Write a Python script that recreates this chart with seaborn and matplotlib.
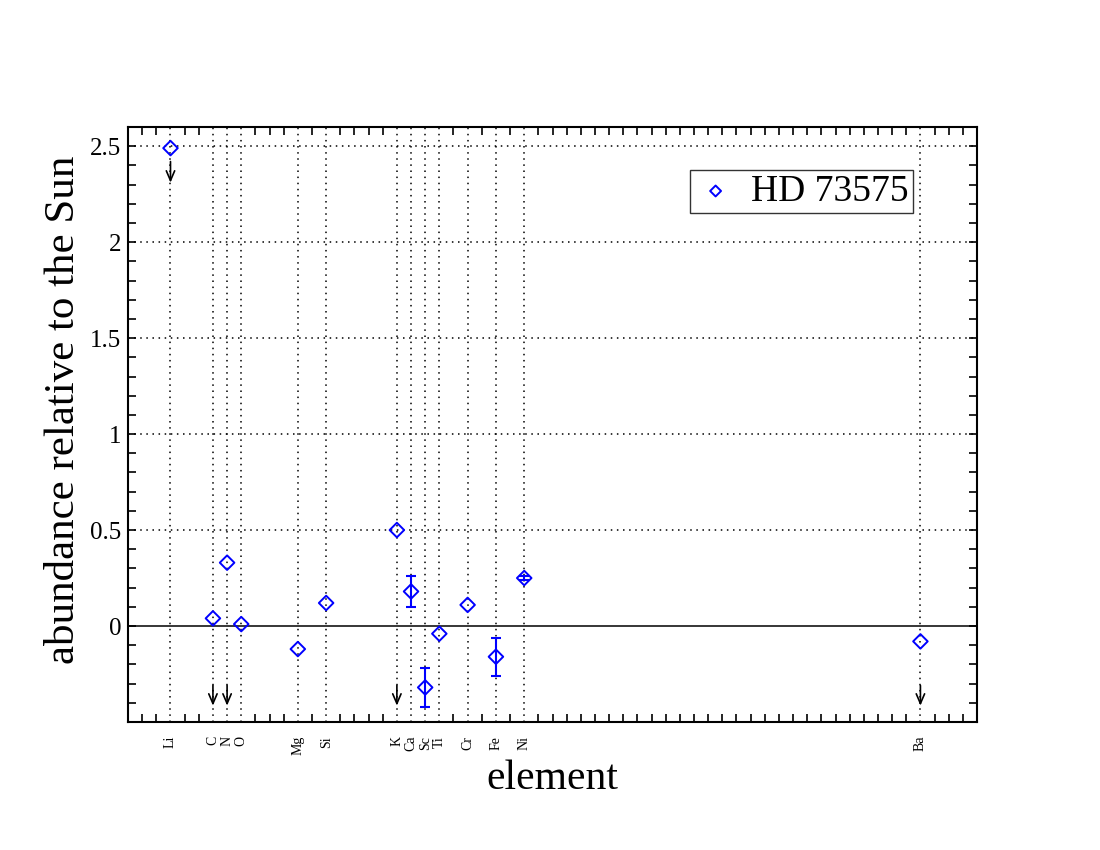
import matplotlib
matplotlib.use('Agg')
import matplotlib.pyplot as plt
from matplotlib.ticker import MultipleLocator, FixedLocator
import numpy as np
import pandas as pd
import seaborn as sns

# abundances of HD 73575 relative to the Sun
elements = ['Li', 'C', 'N', 'O', 'Mg', 'Si', 'K', 'Ca', 'Sc', 'Ti', 'Cr', 'Fe', 'Ni', 'Ba']
atomic_number = [3, 6, 7, 8, 12, 14, 19, 20, 21, 22, 24, 26, 28, 56]
abundance = [2.49, 0.04, 0.33, 0.01, -0.12, 0.12, 0.50, 0.18, -0.32, -0.04, 0.11, -0.16, 0.25, -0.08]
error = [0.0, 0.0, 0.0, 0.0, 0.0, 0.0, 0.0, 0.08, 0.10, 0.0, 0.0, 0.10, 0.01, 0.0]

# arrows (upper limits / flags)
arrow_z = [3, 6, 7, 19, 56]
arrow_start = [2.42, -0.31, -0.31, -0.31, -0.31]
arrow_end = [2.31, -0.415, -0.415, -0.415, -0.415]

df = pd.DataFrame({'z': atomic_number, 'ab': abundance, 'err': error})

sns.set_style('ticks')
plt.rcParams['font.family'] = ['Liberation Serif', 'DejaVu Serif']
plt.rcParams['text.color'] = 'black'
plt.rcParams['axes.labelcolor'] = 'black'
plt.rcParams['xtick.color'] = 'black'
plt.rcParams['ytick.color'] = 'black'

fig = plt.figure(figsize=(11, 8.5), dpi=100)
ax = fig.add_axes([0.1164, 0.1506, 0.7718, 0.7])

# grid and zero line
for z in atomic_number:
    ax.axvline(z, color='black', lw=1.1, ls=(0, (1, 3)), zorder=0)
for yv in [0.5, 1.0, 1.5, 2.0, 2.5]:
    ax.axhline(yv, color='black', lw=1.1, ls=(0, (1, 3)), zorder=0)
ax.axhline(0, color='black', lw=1.1, zorder=1)

# error bars
eb = df[df['err'] > 0]
ax.errorbar(eb['z'], eb['ab'], yerr=eb['err'], fmt='none', ecolor='blue',
            elinewidth=1.5, capsize=3.5, capthick=1.5, zorder=2)

sns.scatterplot(data=df, x='z', y='ab', marker='D', s=55, facecolors='none',
                edgecolors='blue', linewidth=1.4, ax=ax, zorder=3, label='HD 73575')

for z, y0, y1 in zip(arrow_z, arrow_start, arrow_end):
    ax.annotate('', xy=(z, y1), xytext=(z, y0),
                arrowprops=dict(arrowstyle='->,head_length=0.7,head_width=0.3',
                                color='black', lw=1.2, shrinkA=0, shrinkB=0))

ax.set_xlim(0, 60)
ax.set_ylim(-0.5, 2.6)

ax.xaxis.set_major_locator(FixedLocator(atomic_number))
ax.set_xticklabels(elements, rotation=90, fontsize=10)
ax.xaxis.set_minor_locator(MultipleLocator(1))
ax.yaxis.set_major_locator(FixedLocator([0, 0.5, 1, 1.5, 2, 2.5]))
ax.set_yticklabels(['0', '0.5', '1', '1.5', '2', '2.5'], fontsize=18)
ax.yaxis.set_minor_locator(MultipleLocator(0.1))

ax.tick_params(which='both', direction='in', top=True, right=True, width=1.2, length=6)
ax.tick_params(axis='x', which='major', length=0, pad=10)
ax.tick_params(axis='y', which='major', pad=5)

for sp in ax.spines.values():
    sp.set_linewidth(1.5)
    sp.set_color('black')

ax.set_xlabel('element', fontsize=30, labelpad=3)
ax.set_ylabel('abundance relative to the Sun', fontsize=31)
ax.yaxis.set_label_coords(-0.053, 0.524)

leg = ax.legend(loc='upper right', bbox_to_anchor=(0.925, 0.928), borderaxespad=0,
                fontsize=27, frameon=True, fancybox=False, handletextpad=0.4,
                borderpad=0.12, handlelength=1.1, markerscale=0.75)
leg.get_frame().set_edgecolor('black')
leg.get_frame().set_linewidth(1.0)

fig.savefig('out.png', dpi=100)
